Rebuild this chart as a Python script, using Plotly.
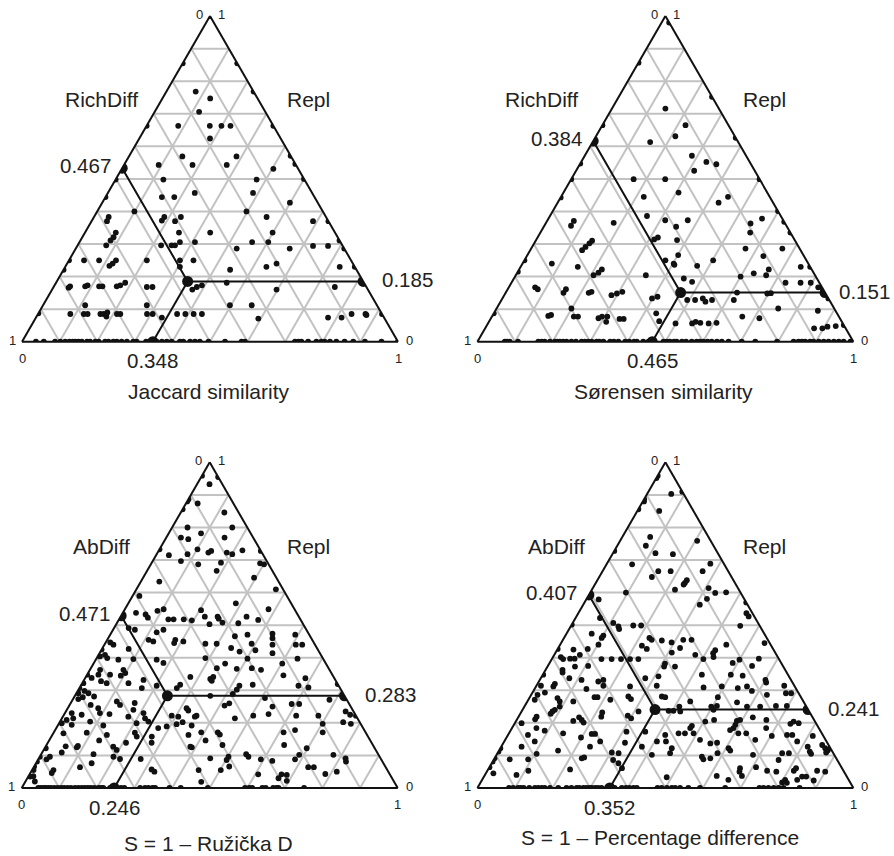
import math
import plotly.graph_objects as go

FIG_W, FIG_H = 894, 856
TRI_W = 376.0
TRI_H = TRI_W * math.sqrt(3) / 2
FONT = "Liberation Sans, Arial, sans-serif"
TXT = "#222222"

# ---------------------------------------------------------------------------
# Data: each site pair is (Repl, S); the difference component (RichDiff or
# AbDiff) completes the triplet, since Repl + Diff + S = 1.
# *_base holds S values of pairs with Repl = 0 (points on the bottom edge).
# ---------------------------------------------------------------------------

jac_pts = [
    (1.0, 0.0), (0.855, 0.0), (0.855, 0.145), (0.768, 0.078), (0.768, 0.232),
    (0.747, 0.127), (0.706, 0.118), (0.663, 0.0), (0.663, 0.084), (0.663, 0.168),
    (0.663, 0.199), (0.663, 0.223), (0.663, 0.337), (0.624, 0.188), (0.569, 0.142),
    (0.569, 0.286), (0.571, 0.429), (0.546, 0.454), (0.543, 0.182), (0.543, 0.273),
    (0.543, 0.092), (0.531, 0.403), (0.5, 0.5), (0.498, 0.127), (0.498, 0.375),
    (0.498, 0.0), (0.457, 0.231), (0.457, 0.386), (0.444, 0.0), (0.444, 0.15),
    (0.444, 0.183), (0.427, 0.499), (0.4, 0.099), (0.4, 0.397), (0.383, 0.187),
    (0.372, 0.186), (0.383, 0.231), (0.37, 0.222), (0.383, 0.459), (0.37, 0.589),
    (0.37, 0.63), (0.383, 0.039), (0.37, 0.041), (0.335, 0.333), (0.335, 0.25),
    (0.335, 0.082), (0.335, 0.499), (0.311, 0.689), (0.321, 0.083), (0.311, 0.08),
    (0.296, 0.076), (0.296, 0.222), (0.296, 0.25), (0.296, 0.259), (0.306, 0.307),
    (0.306, 0.267), (0.306, 0.459), (0.306, 0.502), (0.286, 0.428), (0.286, 0.569),
    (0.294, 0.627), (0.294, 0.667), (0.286, 0.714), (0.25, 0.0), (0.25, 0.04),
    (0.25, 0.08), (0.25, 0.125), (0.24, 0.121), (0.233, 0.116), (0.25, 0.207),
    (0.25, 0.295), (0.25, 0.331), (0.221, 0.0), (0.23, 0.305), (0.221, 0.443),
    (0.23, 0.535), (0.24, 0.557), (0.23, 0.73), (0.23, 0.77), (0.173, 0.392),
    (0.181, 0.454), (0.16, 0.597), (0.168, 0.748), (0.16, 0.373), (0.168, 0.381),
    (0.17, 0.043), (0.166, 0.041), (0.17, 0.083), (0.173, 0.088), (0.17, 0.12),
    (0.17, 0.129), (0.17, 0.167), (0.173, 0.175), (0.181, 0.184), (0.168, 0.248),
    (0.168, 0.263), (0.112, 0.112), (0.112, 0.276), (0.112, 0.497), (0.112, 0.555),
    (0.085, 0.086), (0.085, 0.122), (0.085, 0.132), (0.085, 0.166), (0.085, 0.175),
    (0.077, 0.186), (0.09, 0.182), (0.085, 0.21), (0.085, 0.219), (0.085, 0.29),
    (0.085, 0.305), (0.074, 0.335), (0.085, 0.37), (0.085, 0.392), (0.085, 0.414),
    (0.085, 0.436), (0.071, 0.593), (0.074, 0.777), (0.074, 0.813), (0.085, 0.834),
    (0.085, 0.871), (0.082, 0.875), (0.085, 0.915), (0.087, 0.0),
]
jac_base = [
    0.037, 0.058, 0.088, 0.102, 0.115, 0.126, 0.135, 0.142, 0.15, 0.159, 0.173,
    0.181, 0.195, 0.204, 0.221, 0.23, 0.243, 0.252, 0.265, 0.279, 0.296, 0.305,
    0.33, 0.34, 0.358, 0.372, 0.385, 0.398, 0.42, 0.429, 0.447, 0.46, 0.473,
    0.496, 0.54, 0.584, 0.593, 0.726, 0.735, 0.743, 0.761, 0.783, 0.796, 0.805,
    0.819, 0.836, 0.858, 0.881, 0.912, 0.956, 1.0,
]

sor_pts = [
    (0.98, 0.02), (0.857, 0.0), (0.665, 0.0), (0.547, 0.0), (0.499, 0.0),
    (0.443, 0.0), (0.25, 0.0), (0.215, 0.0), (0.087, 0.0),
    (0.752, 0.248), (0.626, 0.374), (0.499, 0.501), (0.401, 0.599), (0.368, 0.632),
    (0.335, 0.665), (0.23, 0.77), (0.167, 0.833), (0.151, 0.849), (0.133, 0.867),
    (0.051, 0.949),
    (0.716, 0.142), (0.665, 0.221), (0.631, 0.211), (0.613, 0.153), (0.571, 0.285),
    (0.552, 0.333), (0.545, 0.363), (0.525, 0.314), (0.499, 0.166), (0.499, 0.25),
    (0.445, 0.22), (0.458, 0.306), (0.427, 0.428), (0.445, 0.444), (0.386, 0.258),
    (0.373, 0.313), (0.373, 0.373), (0.365, 0.18), (0.353, 0.352), (0.363, 0.545),
    (0.378, 0.568), (0.335, 0.558), (0.371, 0.071), (0.356, 0.071), (0.32, 0.32),
    (0.314, 0.313), (0.312, 0.375), (0.31, 0.15), (0.302, 0.147), (0.291, 0.142),
    (0.281, 0.138), (0.286, 0.57), (0.286, 0.668), (0.25, 0.375), (0.266, 0.401),
    (0.24, 0.402), (0.236, 0.406), (0.24, 0.078), (0.23, 0.152), (0.263, 0.629),
    (0.25, 0.502), (0.233, 0.468), (0.23, 0.745), (0.222, 0.664), (0.204, 0.666),
    (0.21, 0.63), (0.204, 0.207), (0.212, 0.216), (0.222, 0.22), (0.204, 0.346),
    (0.194, 0.452), (0.184, 0.479), (0.2, 0.6), (0.181, 0.729), (0.181, 0.769),
    (0.181, 0.796), (0.167, 0.823), (0.151, 0.615), (0.148, 0.697), (0.149, 0.706),
    (0.167, 0.07), (0.161, 0.08), (0.15, 0.154), (0.161, 0.155), (0.15, 0.221),
    (0.153, 0.227), (0.143, 0.285), (0.148, 0.297), (0.153, 0.309), (0.133, 0.398),
    (0.138, 0.41), (0.128, 0.494), (0.128, 0.515), (0.133, 0.533), (0.123, 0.545),
    (0.128, 0.56), (0.128, 0.618), (0.102, 0.749), (0.095, 0.858), (0.102, 0.199),
    (0.079, 0.149), (0.082, 0.155), (0.077, 0.218), (0.077, 0.229), (0.072, 0.286),
    (0.077, 0.293), (0.061, 0.312), (0.077, 0.307), (0.07, 0.343), (0.07, 0.354),
    (0.087, 0.432), (0.063, 0.452), (0.056, 0.499), (0.056, 0.543), (0.061, 0.55),
    (0.058, 0.564), (0.056, 0.587), (0.058, 0.607), (0.077, 0.666), (0.072, 0.714),
    (0.041, 0.875), (0.041, 0.897), (0.046, 0.908), (0.048, 0.929),
]
sor_base = [
    0.073, 0.079, 0.086, 0.108, 0.162, 0.171, 0.179, 0.193, 0.206, 0.212, 0.219,
    0.228, 0.237, 0.25, 0.262, 0.277, 0.286, 0.295, 0.304, 0.317, 0.324, 0.335,
    0.353, 0.363, 0.375, 0.393, 0.404, 0.417, 0.424, 0.441, 0.455, 0.47, 0.495,
    0.504, 0.512, 0.523, 0.53, 0.544, 0.555, 0.57, 0.583, 0.592, 0.601, 0.612,
    0.623, 0.637, 0.65, 0.668, 0.703, 0.739, 0.797, 0.841, 0.854, 0.863, 0.872,
    0.885, 0.894, 0.908, 0.921, 0.934, 0.948, 0.961, 0.974, 0.992,
]

ruz_pts = [
    (0.959, 0.0), (0.955, 0.045), (0.933, 0.033), (0.887, 0.0), (0.88, 0.0),
    (0.874, 0.031), (0.856, 0.0), (0.846, 0.116), (0.8, 0.041), (0.8, 0.16),
    (0.769, 0.039), (0.764, 0.061), (0.782, 0.086), (0.769, 0.155), (0.733, 0.0),
    (0.715, 0.034), (0.718, 0.082), (0.733, 0.101), (0.723, 0.135), (0.728, 0.14),
    (0.723, 0.184), (0.718, 0.201), (0.73, 0.222), (0.728, 0.272), (0.69, 0.289),
    (0.687, 0.301), (0.697, 0.075), (0.687, 0.126), (0.692, 0.184), (0.667, 0.185),
    (0.634, 0.049), (0.646, 0.295), (0.61, 0.371), (0.567, 0.286), (0.549, 0.382),
    (0.59, 0.018), (0.538, 0.035), (0.533, 0.063), (0.523, 0.074), (0.544, 0.089),
    (0.549, 0.103), (0.518, 0.131), (0.518, 0.145), (0.518, 0.172), (0.515, 0.195),
    (0.546, 0.204), (0.526, 0.224), (0.503, 0.248), (0.526, 0.258), (0.52, 0.264),
    (0.508, 0.28), (0.506, 0.323), (0.526, 0.335), (0.516, 0.371),
    (0.474, 0.43), (0.46, 0.437), (0.471, 0.492), (0.466, 0.334), (0.471, 0.365),
    (0.455, 0.181), (0.45, 0.205), (0.445, 0.183), (0.443, 0.267), (0.443, 0.297),
    (0.443, 0.39), (0.44, 0.447), (0.44, 0.509), (0.44, 0.526), (0.43, 0.342),
    (0.419, 0.37), (0.423, 0.41), (0.414, 0.46), (0.399, 0.289), (0.397, 0.402),
    (0.397, 0.535), (0.368, 0.335), (0.366, 0.389), (0.368, 0.428), (0.363, 0.455),
    (0.382, 0.35), (0.382, 0.502), (0.341, 0.278), (0.335, 0.334), (0.341, 0.339),
    (0.329, 0.341), (0.346, 0.523), (0.337, 0.586), (0.317, 0.263), (0.307, 0.259),
    (0.314, 0.422), (0.302, 0.421), (0.317, 0.456), (0.314, 0.579), (0.309, 0.608),
    (0.319, 0.681), (0.283, 0.36), (0.289, 0.417), (0.276, 0.509), (0.271, 0.683),
    (0.253, 0.413), (0.26, 0.422), (0.25, 0.542), (0.258, 0.589), (0.258, 0.609),
    (0.235, 0.744), (0.225, 0.761), (0.222, 0.778), (0.222, 0.288), (0.219, 0.307),
    (0.245, 0.316), (0.238, 0.324), (0.219, 0.351), (0.222, 0.354), (0.214, 0.46),
    (0.222, 0.505), (0.227, 0.543), (0.222, 0.619), (0.222, 0.678), (0.202, 0.327),
    (0.196, 0.314), (0.192, 0.356), (0.197, 0.702), (0.202, 0.754), (0.197, 0.777),
    (0.171, 0.392), (0.171, 0.436), (0.164, 0.445), (0.171, 0.611), (0.178, 0.638),
    (0.171, 0.715), (0.163, 0.362), (0.146, 0.416), (0.132, 0.468), (0.127, 0.385),
    (0.125, 0.39), (0.132, 0.632), (0.122, 0.697), (0.091, 0.456), (0.096, 0.502),
    (0.086, 0.502), (0.104, 0.545), (0.096, 0.555), (0.088, 0.592), (0.083, 0.625),
    (0.088, 0.683), (0.102, 0.687), (0.102, 0.778), (0.091, 0.816), (0.081, 0.822),
    (0.055, 0.502), (0.066, 0.519), (0.055, 0.443), (0.042, 0.608), (0.042, 0.67),
    (0.04, 0.685), (0.03, 0.668), (0.022, 0.694), (0.064, 0.73), (0.064, 0.745),
    (0.043, 0.786), (0.05, 0.813), (0.019, 0.468),
    (0.491, 0.039), (0.486, 0.058), (0.478, 0.12), (0.486, 0.134), (0.455, 0.11),
    (0.45, 0.125), (0.447, 0.012), (0.44, 0.024), (0.427, 0.071), (0.425, 0.0),
    (0.404, 0.006), (0.409, 0.017), (0.399, 0.028), (0.394, 0.06), (0.396, 0.099),
    (0.394, 0.162), (0.384, 0.185), (0.363, 0.027), (0.348, 0.03), (0.348, 0.061),
    (0.363, 0.089), (0.353, 0.099), (0.345, 0.091), (0.348, 0.0), (0.338, 0.017),
    (0.322, 0.003), (0.328, 0.047), (0.322, 0.065), (0.322, 0.123), (0.332, 0.158),
    (0.314, 0.202), (0.307, 0.166), (0.307, 0.0), (0.291, 0.005), (0.298, 0.018),
    (0.291, 0.032), (0.281, 0.052), (0.279, 0.023), (0.273, 0.014), (0.255, 0.056),
    (0.245, 0.081), (0.266, 0.12), (0.255, 0.134), (0.261, 0.17), (0.24, 0.177),
    (0.23, 0.093), (0.227, 0.12), (0.23, 0.018), (0.225, 0.047), (0.214, 0.03),
    (0.23, 0.209), (0.214, 0.221), (0.219, 0.174), (0.209, 0.015), (0.204, 0.08),
    (0.199, 0.007), (0.194, 0.036), (0.192, 0.121), (0.199, 0.206), (0.204, 0.235),
    (0.184, 0.271), (0.189, 0.291), (0.168, 0.027), (0.17, 0.088), (0.163, 0.145),
    (0.17, 0.216), (0.158, 0.227), (0.158, 0.267), (0.139, 0.208), (0.146, 0.133),
    (0.139, 0.276), (0.122, 0.003), (0.109, 0.052), (0.125, 0.084), (0.129, 0.085),
    (0.104, 0.139), (0.127, 0.18), (0.117, 0.194), (0.096, 0.196), (0.089, 0.217),
    (0.089, 0.272), (0.096, 0.0), (0.081, 0.0), (0.088, 0.022), (0.096, 0.027),
    (0.066, 0.0), (0.055, 0.004), (0.055, 0.057), (0.076, 0.148), (0.057, 0.317),
    (0.05, 0.328), (0.035, 0.005), (0.02, 0.025), (0.036, 0.013), (0.046, 0.057),
    (0.064, 0.123), (0.128, 0.053),
]
ruz_base = [
    0.044, 0.051, 0.058, 0.064, 0.071, 0.078, 0.087, 0.096, 0.105, 0.113, 0.122,
    0.131, 0.142, 0.151, 0.16, 0.168, 0.176, 0.184, 0.193, 0.204, 0.211, 0.217,
    0.235, 0.264, 0.273, 0.315, 0.328, 0.337, 0.348, 0.355, 0.393, 0.423, 0.495,
    0.594, 0.605, 0.613, 0.64, 0.649, 0.669, 0.678, 0.683, 0.751,
]

pct_pts = [
    (0.959, 0.0), (0.952, 0.0), (0.91, 0.09), (0.903, 0.064), (0.887, 0.0),
    (0.88, 0.003), (0.856, 0.0), (0.851, 0.058), (0.771, 0.074), (0.744, 0.076),
    (0.759, 0.205), (0.721, 0.113), (0.718, 0.161), (0.728, 0.0), (0.687, 0.068),
    (0.6, 0.095), (0.579, 0.033),
    (0.522, 0.065), (0.507, 0.108), (0.496, 0.127), (0.488, 0.133), (0.499, 0.165),
    (0.499, 0.186), (0.502, 0.0),
    (0.689, 0.275), (0.666, 0.148), (0.666, 0.181), (0.666, 0.266), (0.648, 0.14),
    (0.638, 0.238), (0.63, 0.237), (0.625, 0.236), (0.609, 0.221), (0.614, 0.308),
    (0.599, 0.333), (0.601, 0.361), (0.581, 0.32), (0.563, 0.31), (0.57, 0.43),
    (0.537, 0.447), (0.527, 0.458), (0.498, 0.45),
    (0.474, 0.067), (0.468, 0.101), (0.461, 0.1), (0.44, 0.102), (0.427, 0.08),
    (0.425, 0.043), (0.427, 0.0), (0.402, 0.021), (0.396, 0.03), (0.397, 0.048),
    (0.397, 0.06), (0.409, 0.068), (0.373, 0.073), (0.375, 0.107), (0.396, 0.132),
    (0.396, 0.159), (0.396, 0.184), (0.396, 0.208), (0.396, 0.23), (0.363, 0.045),
    (0.355, 0.049), (0.348, 0.001), (0.337, 0.076), (0.332, 0.111), (0.332, 0.169),
    (0.327, 0.158), (0.314, 0.178), (0.312, 0.25), (0.32, 0.046), (0.312, 0.046),
    (0.314, 0.012), (0.286, 0.017), (0.271, 0.017), (0.293, 0.033), (0.276, 0.075),
    (0.266, 0.122), (0.304, 0.138), (0.279, 0.172), (0.279, 0.18), (0.271, 0.218),
    (0.281, 0.261), (0.273, 0.272), (0.235, 0.311), (0.235, 0.082), (0.228, 0.081),
    (0.24, 0.086), (0.219, 0.048), (0.211, 0.048), (0.266, 0.086), (0.25, 0.094),
    (0.217, 0.162), (0.209, 0.173), (0.201, 0.182), (0.206, 0.152), (0.219, 0.22),
    (0.232, 0.216), (0.222, 0.289), (0.214, 0.302), (0.199, 0.018), (0.176, 0.091),
    (0.184, 0.065), (0.168, 0.144), (0.166, 0.221), (0.166, 0.23), (0.143, 0.255),
    (0.173, 0.31), (0.139, 0.323), (0.163, 0.053), (0.155, 0.198), (0.127, 0.236),
    (0.143, 0.081), (0.127, 0.054), (0.122, 0.0), (0.112, 0.0), (0.109, 0.303),
    (0.107, 0.322), (0.115, 0.157), (0.105, 0.105), (0.091, 0.0), (0.081, 0.0),
    (0.088, 0.042), (0.088, 0.091), (0.091, 0.232), (0.094, 0.237), (0.086, 0.318),
    (0.076, 0.337), (0.064, 0.0), (0.04, 0.084), (0.053, 0.109), (0.045, 0.02),
    (0.057, 0.218), (0.061, 0.354),
    (0.461, 0.227), (0.455, 0.236), (0.453, 0.264), (0.447, 0.293), (0.455, 0.32),
    (0.455, 0.342), (0.437, 0.219), (0.427, 0.237), (0.43, 0.324), (0.416, 0.309),
    (0.409, 0.375), (0.423, 0.421), (0.414, 0.42), (0.44, 0.442), (0.445, 0.541),
    (0.396, 0.403), (0.402, 0.427), (0.394, 0.5), (0.397, 0.55), (0.382, 0.308),
    (0.373, 0.31), (0.373, 0.339), (0.384, 0.487), (0.375, 0.543), (0.337, 0.278),
    (0.343, 0.31), (0.314, 0.32), (0.348, 0.423), (0.348, 0.5), (0.345, 0.533),
    (0.332, 0.6), (0.324, 0.606), (0.314, 0.659), (0.309, 0.447), (0.312, 0.494),
    (0.307, 0.539), (0.312, 0.561), (0.298, 0.581), (0.286, 0.627), (0.291, 0.675),
    (0.291, 0.689), (0.281, 0.35), (0.279, 0.36), (0.266, 0.433), (0.279, 0.5),
    (0.252, 0.511), (0.25, 0.497), (0.263, 0.559), (0.25, 0.592), (0.25, 0.627),
    (0.252, 0.668), (0.252, 0.697), (0.237, 0.39), (0.237, 0.403), (0.25, 0.412),
    (0.235, 0.422), (0.24, 0.508), (0.217, 0.624), (0.209, 0.664), (0.206, 0.587),
    (0.209, 0.594), (0.197, 0.734), (0.204, 0.739), (0.199, 0.755), (0.209, 0.525),
    (0.204, 0.504), (0.191, 0.475), (0.184, 0.474), (0.168, 0.468), (0.168, 0.491),
    (0.168, 0.451), (0.163, 0.418), (0.143, 0.406), (0.143, 0.43), (0.194, 0.589),
    (0.178, 0.583), (0.184, 0.589), (0.168, 0.61), (0.168, 0.631), (0.148, 0.665),
    (0.184, 0.676), (0.16, 0.703), (0.163, 0.742), (0.163, 0.756), (0.143, 0.779),
    (0.16, 0.812), (0.127, 0.815), (0.132, 0.851), (0.122, 0.864), (0.115, 0.874),
    (0.122, 0.878), (0.109, 0.873), (0.148, 0.518), (0.137, 0.551), (0.139, 0.568),
    (0.122, 0.607), (0.115, 0.615), (0.122, 0.456), (0.107, 0.459), (0.102, 0.413),
    (0.096, 0.549), (0.088, 0.557), (0.107, 0.585), (0.102, 0.682), (0.107, 0.757),
    (0.107, 0.775), (0.112, 0.828), (0.105, 0.835), (0.061, 0.668), (0.05, 0.672),
    (0.064, 0.709), (0.053, 0.744), (0.05, 0.77), (0.086, 0.758), (0.053, 0.815),
    (0.061, 0.817), (0.035, 0.846), (0.035, 0.857), (0.023, 0.883), (0.053, 0.877),
    (0.05, 0.9), (0.025, 0.806), (0.017, 0.802), (0.016, 0.815), (0.025, 0.838),
    (0.037, 0.618), (0.037, 0.685), (0.033, 0.487), (0.025, 0.655), (0.127, 0.374),
    (0.173, 0.36), (0.091, 0.574),
]
pct_base = [
    0.084, 0.095, 0.108, 0.115, 0.123, 0.138, 0.153, 0.162, 0.171, 0.179, 0.193,
    0.215, 0.237, 0.25, 0.264, 0.271, 0.282, 0.29, 0.298, 0.304, 0.313, 0.321,
    0.33, 0.345, 0.365, 0.384, 0.395, 0.404, 0.415, 0.424, 0.479, 0.49, 0.504,
    0.517, 0.526, 0.539, 0.561, 0.592, 0.659, 0.75, 0.761, 0.774, 0.788, 0.801,
    0.814, 0.857,
]

# Mean decomposition of each panel: (Diff, Repl, S)
jac_mean = (0.467, 0.185, 0.348)
sor_mean = (0.384, 0.151, 0.465)
ruz_mean = (0.471, 0.283, 0.246)
pct_mean = (0.407, 0.241, 0.352)

panels = [
    dict(pts=jac_pts, base=jac_base, mean=jac_mean, diff_name="RichDiff",
         title="Jaccard similarity", cx=210.0, yb=341.7,
         diff_dx=79.3, title_dx=-1.0, title_dy=50.0, right_dx=16.7),
    dict(pts=sor_pts, base=sor_base, mean=sor_mean, diff_name="RichDiff",
         title="Sørensen similarity", cx=665.4, yb=341.7,
         diff_dx=63.6, title_dx=-1.7, title_dy=50.0, right_dx=11.7),
    dict(pts=ruz_pts, base=ruz_base, mean=ruz_mean, diff_name="AbDiff",
         title="S = 1 – Ružička D", cx=209.7, yb=788.0,
         diff_dx=80.0, title_dx=-1.4, title_dy=55.0, right_dx=18.3),
    dict(pts=pct_pts, base=pct_base, mean=pct_mean, diff_name="AbDiff",
         title="S = 1 – Percentage difference", cx=665.4, yb=788.0,
         diff_dx=79.3, title_dx=-5.0, title_dy=49.0, right_dx=18.3),
]


def paper(p, a, c):
    """Ternary (a = top, c = bottom-right) to paper coordinates of panel p."""
    xl = p["cx"] - TRI_W / 2
    x = xl + TRI_W * (c + a / 2)
    y = p["yb"] - TRI_H * a
    return x / FIG_W, 1 - y / FIG_H


def axis_style():
    return dict(
        showgrid=True, gridcolor="#c2c2c2", gridwidth=1.6,
        tickmode="linear", tick0=0, dtick=0.1,
        showticklabels=False, ticks="",
        showline=True, linecolor="#111111", linewidth=2,
        layer="below traces",
        title=dict(text=""), min=0,
    )


fig = go.Figure()
annotations = []
layout_ternary = {}

for i, p in enumerate(panels):
    name = "ternary" if i == 0 else f"ternary{i + 1}"
    cy = p["yb"] - TRI_H / 2
    layout_ternary[name] = dict(
        sum=1,
        bgcolor="white",
        domain=dict(
            x=[(p["cx"] - TRI_W / 2) / FIG_W, (p["cx"] + TRI_W / 2) / FIG_W],
            y=[1 - (cy + 175) / FIG_H, 1 - (cy - 175) / FIG_H],
        ),
        aaxis=axis_style(), baxis=axis_style(), caxis=axis_style(),
    )

    repl = [r for r, s in p["pts"]] + [0.0] * len(p["base"])
    sim = [s for r, s in p["pts"]] + list(p["base"])
    diff = [round(1 - r - s, 3) for r, s in zip(repl, sim)]

    d, r, s = p["mean"]
    # lines from the mean point to the three sides
    fig.add_trace(go.Scatterternary(
        a=[1 - d, r, r], b=[d, d, 0], c=[0, s, 1 - r],
        mode="lines", subplot=name, line=dict(color="#111111", width=2),
        hoverinfo="skip", showlegend=False,
    ))
    fig.add_trace(go.Scatterternary(
        a=[r, 0], b=[d, 1 - s], c=[s, s],
        mode="lines", subplot=name, line=dict(color="#111111", width=2),
        hoverinfo="skip", showlegend=False,
    ))

    fig.add_trace(go.Scatterternary(
        a=repl, b=diff, c=sim, mode="markers", subplot=name,
        marker=dict(size=5.8, color="#111111", line=dict(width=0)),
        hoverinfo="skip", showlegend=False,
    ))

    fig.add_trace(go.Scatterternary(
        a=[1 - d, r, r, 0], b=[d, d, 0, 1 - s], c=[0, s, 1 - r, s],
        mode="markers", subplot=name,
        marker=dict(size=11, color="#111111"),
        hoverinfo="skip", showlegend=False,
    ))

    big = dict(family=FONT, size=20.5, color=TXT)
    small = dict(family=FONT, size=13, color=TXT)

    # value labels at the side intercepts
    x, y = paper(p, 1 - d, 0)
    annotations.append(dict(x=x, y=y, text=f"{d:.3f}", xanchor="right",
                            yanchor="middle", xshift=-9.5, yshift=2.5, font=big))
    x, y = paper(p, r, 1 - r)
    annotations.append(dict(x=x, y=y, text=f"{r:.3f}", xanchor="left",
                            yanchor="middle", xshift=p["right_dx"], yshift=1.5,
                            font=big))
    x, y = paper(p, 0, s)
    annotations.append(dict(x=x, y=y, text=f"{s:.3f}", xanchor="center",
                            yanchor="middle", yshift=-19, font=big))

    # corner tick values
    x, y = paper(p, 1, 0)
    annotations.append(dict(x=x, y=y, text="0", xanchor="center", yanchor="middle",
                            xshift=-11, yshift=1.5, font=small))
    annotations.append(dict(x=x, y=y, text="1", xanchor="center", yanchor="middle",
                            xshift=11.5, yshift=1.5, font=small))
    x, y = paper(p, 0, 0)
    annotations.append(dict(x=x, y=y, text="1", xanchor="center", yanchor="middle",
                            xshift=-10, yshift=1.5, font=small))
    annotations.append(dict(x=x, y=y, text="0", xanchor="center", yanchor="middle",
                            yshift=-16.5, font=small))
    x, y = paper(p, 0, 1)
    annotations.append(dict(x=x, y=y, text="0", xanchor="center", yanchor="middle",
                            xshift=11.5, yshift=1.5, font=small))
    annotations.append(dict(x=x, y=y, text="1", xanchor="center", yanchor="middle",
                            yshift=-16.5, font=small))

    # side names and bottom title
    xl = p["cx"] - TRI_W / 2
    annotations.append(dict(x=(xl + p["diff_dx"]) / FIG_W,
                            y=1 - (p["yb"] - 242) / FIG_H,
                            text=p["diff_name"], xanchor="center",
                            yanchor="middle", font=dict(family=FONT, size=21, color=TXT)))
    annotations.append(dict(x=(xl + 286.6) / FIG_W,
                            y=1 - (p["yb"] - 242) / FIG_H,
                            text="Repl", xanchor="center", yanchor="middle",
                            font=dict(family=FONT, size=21, color=TXT)))
    annotations.append(dict(x=(p["cx"] + p["title_dx"]) / FIG_W,
                            y=1 - (p["yb"] + p["title_dy"]) / FIG_H,
                            text=p["title"], xanchor="center", yanchor="middle",
                            font=dict(family=FONT, size=21, color=TXT)))

for ann in annotations:
    ann.update(xref="paper", yref="paper", showarrow=False)

fig.update_layout(
    width=FIG_W, height=FIG_H,
    margin=dict(l=0, r=0, t=0, b=0),
    paper_bgcolor="white",
    font=dict(family=FONT, color=TXT),
    annotations=annotations,
    showlegend=False,
    **layout_ternary,
)

fig.write_html("out.html", config={"displayModeBar": False})
